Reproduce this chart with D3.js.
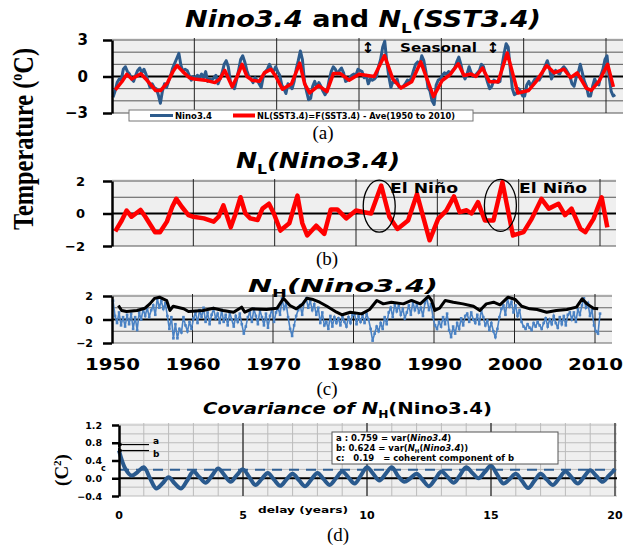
<!DOCTYPE html>
<html>
<head>
<meta charset="utf-8">
<script src="https://cdn.jsdelivr.net/npm/d3@7"></script>
<style>
  body { margin: 0; background: #fff; }
  svg { display: block; }
</style>
</head>
<body>
<script>
// ---- data ------------------------------------------------------------
// N_L (low-frequency part), same curve in panels (a) and (b)
const nlYears = [1950.4, 1951.2, 1951.8, 1952.4, 1953.5, 1954.1, 1955.3, 1955.9, 1956.75, 1957.4,
  1957.9, 1958.6, 1959.4, 1960.0, 1961.3, 1962.5, 1963.1, 1963.7, 1964.6, 1965.2,
  1965.8, 1966.4, 1967.0, 1967.9, 1968.5, 1969.3, 1969.9, 1970.7, 1971.8, 1972.8,
  1973.4, 1974.0, 1975.1, 1976.1, 1976.9, 1977.7, 1978.8, 1980.0, 1981.0, 1981.85,
  1983.1, 1984.1, 1985.1, 1986.4, 1987.5, 1988.2, 1989.05, 1990.1, 1991.1, 1992.05,
  1992.75, 1993.6, 1994.2, 1995.0, 1995.85, 1996.9, 1998.0, 1999.3, 2000.6, 2001.6,
  2002.8, 2003.7, 2004.9, 2005.7, 2006.5, 2007.6, 2008.2, 2009.2, 2010.2, 2010.9];
const nlValues = [-1.1, -0.43, 0.18, -0.2, 0.22, -0.2, -1.15, -1.15, -0.5, 0.4,
  0.9, 0.4, -0.1, -0.2, -0.3, -0.5, -0.2, 0.5, -0.85, 0.0,
  1.0, 0.0, -0.3, -0.4, 0.3, 0.6, 0.0, -1.05, -0.6, 1.1,
  -0.6, -1.35, -0.75, -1.25, 0.25, 0.25, -0.3, 0.18, 0.08, 0.0,
  1.72, -0.2, -0.95, -0.43, 1.2, -0.1, -1.65, -0.33, 0.18, 1.05,
  0.08, 0.2, 0.0, 0.7, -0.43, -0.43, 1.93, -1.35, -1.15, -0.33,
  0.9, 0.3, 0.6, -0.1, 0.3, -0.95, -1.15, -0.33, 1.0, -0.85];

// Nino3.4 anomaly, four values per year (panel a, blue)
const nino34 = [
  [1950, [-1.7, -1.2, -0.5, -0.2]], [1951, [-0.3, 0.6, 0.8, 0.4]], [1952, [0.2, -0.2, -0.4, 0.1]],
  [1953, [0.5, 0.7, 0.3, 0.6]], [1954, [0.2, -0.4, -0.9, -0.6]], [1955, [-0.9, -1.0, -1.5, -2.2]],
  [1956, [-1.2, -0.6, -0.9, -0.4]], [1957, [0.1, 0.7, 1.1, 1.5]], [1958, [1.9, 0.9, 0.4, 0.6]],
  [1959, [0.5, 0.1, -0.3, 0.0]], [1960, [-0.2, 0.1, -0.1, 0.2]], [1961, [-0.1, 0.4, -0.4, -0.2]],
  [1962, [-0.3, -0.1, 0.1, -0.6]], [1963, [-0.2, 0.3, 1.0, 1.3]], [1964, [0.8, -0.4, -0.8, -1.0]],
  [1965, [-0.3, 0.5, 1.4, 1.7]], [1966, [1.2, 0.5, 0.0, -0.2]], [1967, [-0.5, -0.1, -0.3, -0.6]],
  [1968, [-0.9, 0.0, 0.4, 0.6]], [1969, [1.0, 0.6, 0.4, 0.8]], [1970, [0.4, 0.1, -0.7, -1.0]],
  [1971, [-1.4, -0.6, -0.8, -1.0]], [1972, [-0.4, 0.6, 1.3, 2.1]], [1973, [1.4, -0.4, -1.2, -1.9]],
  [1974, [-1.8, -0.8, -0.4, -0.9]], [1975, [-0.5, -0.8, -1.2, -1.5]], [1976, [-1.2, -0.3, 0.4, 0.8]],
  [1977, [0.6, 0.2, 0.5, 0.7]], [1978, [0.3, -0.4, -0.3, -0.1]], [1979, [0.1, 0.2, 0.1, 0.6]],
  [1980, [0.5, 0.4, -0.1, 0.1]], [1981, [-0.6, -0.2, -0.3, -0.2]], [1982, [0.0, 0.8, 1.4, 2.4]],
  [1983, [2.9, 1.2, 0.0, -0.9]], [1984, [-0.4, -0.5, -0.2, -0.9]], [1985, [-0.9, -0.8, -0.6, -0.3]],
  [1986, [-0.4, -0.1, 0.5, 1.0]], [1987, [1.2, 0.9, 1.7, 1.3]], [1988, [0.4, -0.9, -1.2, -2.0]],
  [1989, [-2.3, -0.7, -0.3, -0.2]], [1990, [0.1, 0.3, 0.2, 0.4]], [1991, [0.3, 0.5, 0.7, 1.2]],
  [1992, [1.6, 1.0, 0.2, -0.2]], [1993, [0.2, 0.8, 0.3, 0.0]], [1994, [0.1, 0.3, 0.5, 1.0]],
  [1995, [0.8, 0.1, -0.5, -1.0]], [1996, [-0.8, -0.3, -0.4, -0.5]], [1997, [-0.4, 0.9, 1.9, 2.7]],
  [1998, [2.4, 0.6, -1.0, -1.5]], [1999, [-1.4, -1.0, -1.2, -1.6]], [2000, [-1.6, -0.7, -0.4, -0.8]],
  [2001, [-0.5, -0.2, -0.1, -0.3]], [2002, [0.0, 0.5, 0.9, 1.3]], [2003, [0.7, -0.2, 0.2, 0.5]],
  [2004, [0.3, 0.2, 0.6, 0.8]], [2005, [0.6, 0.3, 0.0, -0.6]], [2006, [-0.8, -0.1, 0.3, 1.0]],
  [2007, [0.3, -0.4, -0.8, -1.6]], [2008, [-1.6, -0.8, -0.2, -0.6]], [2009, [-0.7, 0.1, 0.6, 1.4]],
  [2010, [1.7, 0.0, -1.2, -1.6]], [2011, [-1.5]],
];

// N_H (high-frequency part), four values per year (panel c, blue)
const nhValues = [
  [1950, [1.6, 0.3, -0.3, 0.6]], [1951, [-0.5, 0.2, -0.6, 0.4]], [1952, [-0.4, 0.5, -0.8, 0.2]],
  [1953, [-0.9, 0.6, 0.0, 0.9]], [1954, [0.3, 1.0, 0.2, 0.8]], [1955, [1.2, 0.4, 1.8, 1.0]],
  [1956, [1.6, 0.9, 1.4, 0.3]], [1957, [-0.8, 0.2, -1.6, -0.4]], [1958, [-1.6, -0.8, -1.1, 0.2]],
  [1959, [-0.5, -1.0, -0.2, -0.8]], [1960, [0.1, 0.6, -0.3, 0.8]], [1961, [0.2, 1.0, -0.2, 0.6]],
  [1962, [-0.4, 0.4, 0.9, 0.1]], [1963, [0.5, -0.3, 0.8, -0.2]], [1964, [0.4, -0.5, 0.6, 0.0]],
  [1965, [-0.6, 0.3, -0.2, 0.5]], [1966, [-0.4, -1.2, -0.6, 0.2]], [1967, [0.6, -0.2, 0.9, 0.3]],
  [1968, [-0.4, 0.8, 0.2, -0.5]], [1969, [0.5, -0.7, 0.3, 0.9]], [1970, [-0.2, 0.6, 1.0, 0.4]],
  [1971, [1.8, 0.9, 1.4, 0.2]], [1972, [-0.8, -1.4, -0.5, 0.3]], [1973, [0.8, 1.2, 0.4, 1.5]],
  [1974, [1.8, 1.0, 1.6, 0.8]], [1975, [1.3, 0.4, 1.0, -0.3]], [1976, [0.6, -0.5, -0.2, -0.8]],
  [1977, [0.3, -0.6, 0.2, -0.3]], [1978, [0.1, -0.5, 0.3, -0.2]], [1979, [-0.6, 0.2, -0.3, 0.4]],
  [1980, [0.5, -0.4, 0.3, -0.2]], [1981, [0.4, -0.3, 0.5, 0.0]], [1982, [-0.8, -1.8, -1.2, -0.6]],
  [1983, [-1.0, -0.3, -0.8, 0.2]], [1984, [-0.4, 0.6, 1.0, 0.2]], [1985, [1.3, 0.7, 1.2, 0.4]],
  [1986, [0.9, 0.1, 0.6, 1.2]], [1987, [0.4, 1.5, 0.8, 1.3]], [1988, [0.6, 1.0, 0.3, 1.4]],
  [1989, [1.8, 0.8, 1.3, 0.2]], [1990, [-0.5, -0.8, -0.2, -0.6]], [1991, [0.2, -0.4, 0.5, -0.9]],
  [1992, [-1.5, -0.6, -1.2, -0.3]], [1993, [-0.8, 0.1, -0.5, 0.3]], [1994, [0.5, -0.2, 0.6, 0.0]],
  [1995, [-0.3, 0.4, -0.4, 0.8]], [1996, [0.2, -0.5, -0.1, -0.9]], [1997, [-0.3, -1.0, -1.5, -0.8]],
  [1998, [0.2, 0.9, 1.2, 0.4]], [1999, [1.8, 1.1, 1.5, 0.6]], [2000, [1.2, 0.3, 0.8, -0.2]],
  [2001, [-0.6, -0.8, -0.4, -0.7]], [2002, [-0.9, -0.3, -0.6, -0.2]], [2003, [-0.5, -0.8, -0.3, 0.1]],
  [2004, [-0.6, 0.0, -0.4, 0.3]], [2005, [-0.3, -0.7, 0.2, -0.4]], [2006, [0.3, -0.5, 0.4, 0.6]],
  [2007, [0.0, 0.6, -0.2, 0.9]], [2008, [0.4, 1.2, 1.8, 1.0]], [2009, [1.4, 0.3, 0.8, -0.5]],
  [2010, [-1.0, -1.2, 0.5]],
];

// upper envelope of N_H (panel c, black)
const envYears = [1950.8, 1951.2, 1951.8, 1953.1, 1954.1, 1954.7, 1955.3, 1955.9, 1956.8, 1957.2,
  1957.6, 1958.9, 1959.5, 1961.3, 1962.6, 1963.8, 1965.1, 1966.1, 1966.5, 1967.4,
  1969.2, 1970.5, 1971.3, 1972.1, 1972.9, 1973.6, 1974.2, 1975.0, 1975.8, 1976.7,
  1977.9, 1978.6, 1979.6, 1981.0, 1982.0, 1982.9, 1983.7, 1984.7, 1986.2, 1987.2,
  1988.3, 1989.3, 1989.7, 1990.1, 1990.7, 1991.4, 1992.4, 1993.6, 1994.9, 1995.7,
  1996.5, 1997.4, 1998.2, 1999.2, 2000.1, 2000.9, 2001.9, 2002.8, 2004.0, 2005.2,
  2006.5, 2007.7, 2008.4, 2009.0, 2009.8, 2010.4];
const envValues = [1.19, 0.77, 0.68, 0.77, 0.96, 1.33, 1.8, 1.9, 1.6, 0.77,
  1.13, 0.91, 0.68, 0.77, 0.96, 0.77, 0.62, 1.05, 0.62, 0.91,
  0.85, 0.96, 1.8, 1.19, 0.91, 1.25, 1.8, 1.7, 1.47, 1.13,
  0.62, 0.4, 0.62, 0.48, 0.85, 1.62, 1.33, 1.47, 1.33, 1.62,
  1.33, 1.98, 1.62, 0.77, 0.96, 1.62, 1.47, 1.33, 1.13, 0.77,
  1.33, 1.47, 1.25, 1.9, 1.7, 1.13, 0.91, 0.85, 0.62, 0.77,
  0.85, 1.05, 1.76, 1.33, 0.96, 0.91];

// covariance of N_H against delay (panel d)
const covLags = d3.range(0, 20.01, 0.25);
const covValues = [0.624, 0.22, 0.06, 0.14, 0.25, 0.0, -0.23, -0.12, 0.02, -0.12, -0.23, -0.05,
  0.15, 0.02, -0.1, 0.06, 0.22, 0.07, -0.08, 0.07, 0.2, 0.03, -0.15, -0.02,
  0.12, -0.03, -0.17, -0.03, 0.1, -0.04, -0.18, -0.03, 0.12, -0.02, -0.15, 0.0,
  0.15, 0.02, -0.12, 0.06, 0.25, 0.1, -0.05, 0.1, 0.25, 0.05, -0.08, 0.0,
  0.1, -0.04, -0.18, -0.02, 0.15, 0.03, -0.1, 0.07, 0.25, 0.12, 0.0, 0.14,
  0.28, 0.08, -0.12, -0.02, 0.1, -0.06, -0.22, -0.06, 0.1, -0.03, -0.15, 0.0,
  0.15, 0.02, -0.12, 0.03, 0.18, 0.05, -0.08, 0.06, 0.2];
const covVarTotal = 0.759;
const covVarNH = 0.624;
const covCoherent = 0.19;

const decades = [1950, 1960, 1970, 1980, 1990, 2000, 2010];
const yTicksA = [-3, 0, 3];
const yTicksB = [-2, 0, 2];
const yTicksD = [-0.4, 0, 0.4, 0.8, 1.2];
const xTicksD = [0, 5, 10, 15, 20];

//-------------------------------------------------------

const SANS = "'DejaVu Sans', sans-serif";
const SERIF = "'Liberation Serif', 'Times New Roman', serif";

const quarterly = (rows) =>
  rows.flatMap(([yr, vals]) => vals.map((v, k) => ({ t: yr + (k + 0.5) / 4, v })));
const pairs = (xs, ys) => xs.map((t, i) => ({ t, v: ys[i] }));

const svg = d3.select('body').append('svg')
  .attr('width', 635).attr('height', 547)
  .attr('font-family', SANS);

const BG = '#efefef';

const drawFrame = (x, y, right, hValues, vValues, opts = {}) => {
  const g = svg.append('g');
  const [x0] = x.range();
  const top = y.range()[1] - 2;
  const bottom = y.range()[0];
  g.append('rect')
    .attr('x', x0).attr('y', top)
    .attr('width', right - x0).attr('height', bottom - top)
    .attr('fill', BG);
  g.selectAll('.hg').data(hValues).enter().append('line')
    .attr('x1', x0).attr('x2', right)
    .attr('y1', (d) => y(d)).attr('y2', (d) => y(d))
    .attr('stroke', opts.hColor || '#555').attr('stroke-width', opts.hWidth || 1);
  g.selectAll('.vg').data(vValues).enter().append('line')
    .attr('x1', (d) => x(d)).attr('x2', (d) => x(d))
    .attr('y1', top).attr('y2', bottom)
    .attr('stroke', opts.vColor || '#222').attr('stroke-width', 1);
  g.append('line')
    .attr('x1', x0).attr('x2', right)
    .attr('y1', y(0)).attr('y2', y(0))
    .attr('stroke', '#000').attr('stroke-width', 2);
  return g;
};

const drawYAxis = (y, x0, ticks, size, pad, fontSize, fmt) => {
  const ax = svg.append('g')
    .attr('transform', `translate(${x0},0)`)
    .call(d3.axisLeft(y).tickValues(ticks).tickSize(size).tickSizeOuter(0).tickPadding(pad).tickFormat(fmt || d3.format('d')));
  ax.select('.domain').attr('stroke-width', 2.5);
  ax.selectAll('.tick line').attr('stroke-width', 2.5);
  ax.selectAll('text')
    .attr('font-family', SANS)
    .attr('font-weight', 'bold')
    .attr('font-size', fontSize)
    .attr('fill', '#000');
  return ax;
};

const titleText = (x, y, size, len, parts) => {
  const t = svg.append('text')
    .attr('x', x).attr('y', y)
    .attr('font-size', size).attr('font-weight', 'bold')
    .attr('textLength', len).attr('lengthAdjust', 'spacingAndGlyphs');
  parts.forEach((p) => {
    const s = t.append('tspan').text(p.s).attr('font-style', p.i ? 'italic' : 'normal');
    if (p.sub) s.attr('font-size', size * 0.62).attr('dy', size * 0.28);
    if (p.after) s.attr('dy', -size * 0.28);
  });
  return t;
};

const panelTag = (x, y, s) =>
  svg.append('text').attr('x', x).attr('y', y).attr('text-anchor', 'middle')
    .attr('font-family', SERIF).attr('font-size', 19).text(s);

const lineGen = (x, y) => d3.line().x((d) => x(d.t)).y((d) => y(d.v));

// ---- (a) Nino3.4 and NL(SST3.4) --------------------------------------
const xA = d3.scaleLinear().domain([1950, 2010]).range([112, 606]);
const yA = d3.scaleLinear().domain([-3, 3]).range([113, 40]);
drawFrame(xA, yA, 623, d3.range(-3, 4), decades.slice(1));
svg.append('path').datum(quarterly(nino34))
  .attr('d', lineGen(xA, yA)).attr('fill', 'none')
  .attr('stroke', '#2d5b8c').attr('stroke-width', 3).attr('stroke-linejoin', 'round');
svg.append('path').datum(pairs(nlYears, nlValues))
  .attr('d', lineGen(xA, yA)).attr('fill', 'none')
  .attr('stroke', '#ff0000').attr('stroke-width', 3.5).attr('stroke-linejoin', 'round');
drawYAxis(yA, 112, yTicksA, 9, 15, 15);

titleText(185, 27, 23, 356, [
  { s: 'Nino3.4', i: true }, { s: ' and ' }, { s: 'N', i: true },
  { s: 'L', sub: true }, { s: '(SST3.4)', i: true, after: true },
]);

svg.append('text').attr('x', 400).attr('y', 52).attr('font-size', 13).attr('font-weight', 'bold')
  .attr('textLength', 77).attr('lengthAdjust', 'spacingAndGlyphs').text('Seasonal');
[368, 493].forEach((ax) =>
  svg.append('text').attr('x', ax).attr('y', 53).attr('text-anchor', 'middle')
    .attr('font-size', 15).attr('font-weight', 'bold').text('\u2195'));

const legA = svg.append('g');
legA.append('rect').attr('x', 129).attr('y', 110).attr('width', 344).attr('height', 11)
  .attr('fill', '#fff').attr('stroke', '#777').attr('stroke-width', 1);
legA.append('line').attr('x1', 150).attr('x2', 173).attr('y1', 115.5).attr('y2', 115.5)
  .attr('stroke', '#2d5b8c').attr('stroke-width', 3);
legA.append('text').attr('x', 175).attr('y', 118.5).attr('font-size', 8.2).attr('font-weight', 'bold')
  .attr('textLength', 37).attr('lengthAdjust', 'spacingAndGlyphs').text('Nino3.4');
legA.append('line').attr('x1', 233).attr('x2', 255).attr('y1', 115.5).attr('y2', 115.5)
  .attr('stroke', '#ff0000').attr('stroke-width', 4);
legA.append('text').attr('x', 257).attr('y', 118.5).attr('font-size', 8.2).attr('font-weight', 'bold')
  .attr('textLength', 198).attr('lengthAdjust', 'spacingAndGlyphs')
  .text('NL(SST3.4)=F(SST3.4) - Ave(1950 to 2010)');
panelTag(323, 139, '(a)');

// ---- (b) NL(Nino3.4) -------------------------------------------------
const xB = d3.scaleLinear().domain([1950, 2010]).range([112, 600]);
const yB = d3.scaleLinear().domain([-2, 2]).range([246, 181]);
drawFrame(xB, yB, 616, d3.range(-2, 3), decades.slice(1));
svg.append('path').datum(pairs(nlYears, nlValues))
  .attr('d', lineGen(xB, yB)).attr('fill', 'none')
  .attr('stroke', '#ff0000').attr('stroke-width', 4.5).attr('stroke-linejoin', 'round');
drawYAxis(yB, 112, yTicksB, 9, 18, 13);

titleText(236, 168, 22, 164, [
  { s: 'N', i: true }, { s: 'L', sub: true }, { s: '(Nino3.4)', i: true, after: true },
]);

// El Nino markers around the 1983 and 1998 peaks
const elNino = [{ t: 1983.1, v: 0.45, lx: 390 }, { t: 1998.0, v: 0.5, lx: 519 }];
elNino.forEach((e) => {
  svg.append('ellipse').attr('cx', xB(e.t) - 2).attr('cy', yB(e.v))
    .attr('rx', 16).attr('ry', 26).attr('fill', 'none')
    .attr('stroke', '#000').attr('stroke-width', 1.3);
  svg.append('text').attr('x', e.lx).attr('y', 193).attr('font-size', 14).attr('font-weight', 'bold')
    .attr('textLength', 68).attr('lengthAdjust', 'spacingAndGlyphs').text('El Niño');
});
panelTag(327, 265, '(b)');

// ---- (c) NH(Nino3.4) -------------------------------------------------
const xC = d3.scaleLinear().domain([1950, 2010]).range([112, 595]);
const yC = d3.scaleLinear().domain([-2, 2]).range([343, 296]);
drawFrame(xC, yC, 612, d3.range(-2, 3), decades.slice(1), { hColor: '#666' });
const nhPts = quarterly(nhValues);
svg.append('path').datum(nhPts)
  .attr('d', lineGen(xC, yC)).attr('fill', 'none')
  .attr('stroke', '#4a82c4').attr('stroke-width', 1.6);
svg.selectAll('.nhpt').data(nhPts).enter().append('rect')
  .attr('x', (d) => xC(d.t) - 1.3).attr('y', (d) => yC(d.v) - 1.3)
  .attr('width', 2.6).attr('height', 2.6).attr('fill', '#4a82c4');
svg.append('path').datum(pairs(envYears, envValues))
  .attr('d', lineGen(xC, yC)).attr('fill', 'none')
  .attr('stroke', '#000').attr('stroke-width', 3).attr('stroke-linejoin', 'round');
drawYAxis(yC, 112, yTicksB, 9, 10, 11);

svg.selectAll('.xlc').data(decades).enter().append('text')
  .attr('x', (d) => xC(d) - 27).attr('y', 370)
  .attr('font-size', 16).attr('font-weight', 'bold')
  .attr('textLength', 55).attr('lengthAdjust', 'spacingAndGlyphs')
  .text((d) => d);

titleText(248, 292, 18, 190, [
  { s: 'N', i: true }, { s: 'H', sub: true }, { s: '(Nino3.4)', i: true, after: true },
]);
panelTag(327, 395, '(c)');

// ---- (d) covariance --------------------------------------------------
const xD = d3.scaleLinear().domain([0, 20]).range([119, 615]);
const yD = d3.scaleLinear().domain([-0.4, 1.2]).range([496, 425]);
const gD = drawFrame(xD, yD, 617, d3.range(-0.4, 1.21, 0.2), d3.range(1, 21),
  { hColor: '#bbb', vColor: '#bbb' });
gD.selectAll('.vmaj').data([5, 10, 15, 20]).enter().append('line')
  .attr('x1', (d) => xD(d)).attr('x2', (d) => xD(d))
  .attr('y1', yD(1.2) - 2).attr('y2', yD(-0.4))
  .attr('stroke', '#000').attr('stroke-width', 1);

svg.append('line')
  .attr('x1', xD(0)).attr('x2', xD(20))
  .attr('y1', yD(covCoherent)).attr('y2', yD(covCoherent))
  .attr('stroke', '#2f5f94').attr('stroke-width', 2).attr('stroke-dasharray', '10,7');
svg.append('path').datum(pairs(covLags, covValues))
  .attr('d', d3.line().x((d) => xD(d.t)).y((d) => yD(d.v)).curve(d3.curveCatmullRom))
  .attr('fill', 'none').attr('stroke', '#2a5a8e').attr('stroke-width', 4);
drawYAxis(yD, 119, yTicksD, 7, 10, 9.5, d3.format('.1f'));

svg.selectAll('.xld').data(xTicksD).enter().append('text')
  .attr('x', (d) => xD(d)).attr('y', 519).attr('text-anchor', 'middle')
  .attr('font-size', 11).attr('font-weight', 'bold').text((d) => d);
svg.append('text').attr('x', 258).attr('y', 513).attr('font-size', 9.5).attr('font-weight', 'bold')
  .attr('textLength', 90).attr('lengthAdjust', 'spacingAndGlyphs').text('delay (years)');

// arrows to var values at zero delay
svg.append('defs').append('marker')
  .attr('id', 'ah').attr('viewBox', '0 0 10 10').attr('refX', 1).attr('refY', 5)
  .attr('markerWidth', 5).attr('markerHeight', 5).attr('orient', 'auto')
  .append('path').attr('d', 'M10,0 L0,5 L10,10 Z').attr('fill', '#000');
[{ v: covVarTotal, s: 'a', dy: -1 }, { v: covVarNH, s: 'b', dy: 6 }].forEach((a) => {
  svg.append('line').attr('x1', 149).attr('x2', xD(0) + 4)
    .attr('y1', yD(a.v)).attr('y2', yD(a.v))
    .attr('stroke', '#000').attr('stroke-width', 1.2).attr('marker-end', 'url(#ah)');
  svg.append('text').attr('x', 153).attr('y', yD(a.v) + a.dy)
    .attr('font-size', 9).attr('font-weight', 'bold').text(a.s);
});
svg.append('text').attr('x', 101).attr('y', yD(covCoherent) + 1)
  .attr('font-size', 8).attr('font-weight', 'bold').text('c');

const legD = svg.append('g').attr('font-size', 8.5).attr('font-weight', 'bold');
legD.append('rect').attr('x', 332).attr('y', 432).attr('width', 226).attr('height', 32)
  .attr('fill', '#fff').attr('stroke', '#555');
const l1 = legD.append('text').attr('x', 336).attr('y', 441);
l1.append('tspan').text(`a : ${covVarTotal} = var(`);
l1.append('tspan').attr('font-style', 'italic').text('Nino3.4');
l1.append('tspan').text(')');
const l2 = legD.append('text').attr('x', 336).attr('y', 451);
l2.append('tspan').text(`b:  ${covVarNH} = var(`);
l2.append('tspan').attr('font-style', 'italic').text('N');
l2.append('tspan').attr('font-size', 5.5).attr('dy', 2).text('H');
l2.append('tspan').attr('dy', -2).text('(');
l2.append('tspan').attr('font-style', 'italic').text('Nino3.4');
l2.append('tspan').text('))');
legD.append('text').attr('x', 336).attr('y', 461)
  .attr('xml:space', 'preserve')
  .text(`c:   ${covCoherent}   = coherent component of b`);

titleText(203, 414, 16, 289, [
  { s: 'Covariance of ', i: true }, { s: 'N', i: true }, { s: 'H', sub: true },
  { s: '(Nino3.4)', after: true },
]);
panelTag(338, 541, '(d)');

// ---- shared y labels ---------------------------------------------------
const tl = svg.append('text')
  .attr('transform', 'translate(33,139) scale(1.15,1) rotate(-90)')
  .attr('text-anchor', 'middle')
  .attr('font-family', SERIF)
  .attr('font-size', 26).attr('font-weight', 'bold')
  .attr('textLength', 182).attr('lengthAdjust', 'spacingAndGlyphs');
tl.append('tspan').text('Temperature (');
tl.append('tspan').attr('font-size', 15).attr('dy', -10).text('o');
tl.append('tspan').attr('dy', 10).text('C)');

const cl = svg.append('text')
  .attr('transform', 'translate(68,470) rotate(-90)')
  .attr('text-anchor', 'middle')
  .attr('font-family', SERIF)
  .attr('font-size', 19).attr('font-weight', 'bold');
cl.append('tspan').text('(C');
cl.append('tspan').attr('font-size', 11).attr('dy', -7).text('2');
cl.append('tspan').attr('dy', 7).text(')');
</script>
</body>
</html>
